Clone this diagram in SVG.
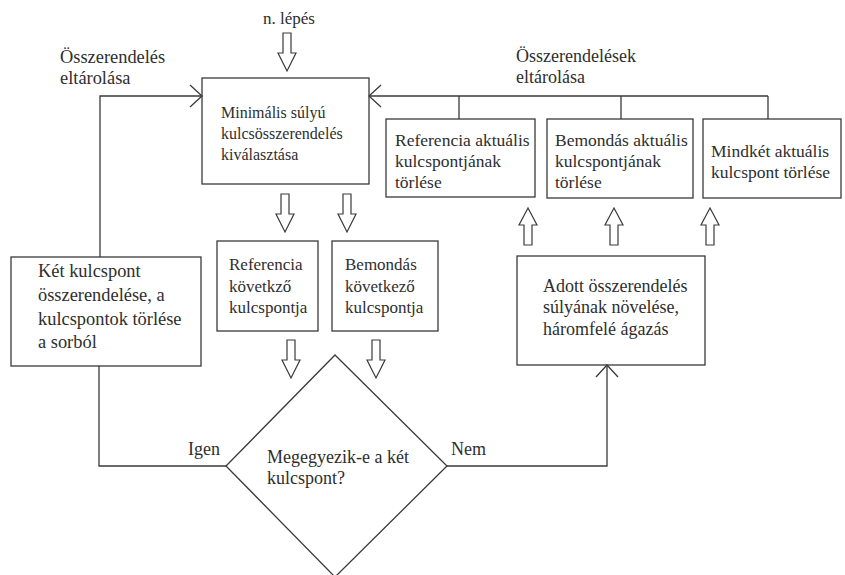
<svg xmlns="http://www.w3.org/2000/svg" width="845" height="575" viewBox="0 0 845 575">
<defs>
<style>
.box{fill:none;stroke:#3a3a3a;stroke-width:1.3}
.ln{fill:none;stroke:#3a3a3a;stroke-width:1.3}
.ha{fill:#fff;stroke:#3a3a3a;stroke-width:1.2;stroke-linejoin:miter}
.t{fill:#2e2e2e}
.f16{font-size:16px}.f17{font-size:17px}.f175{font-size:17.5px}.f18{font-size:18px}.f185{font-size:18.4px}
</style>
<path id="down" d="M-4,0 L4,0 L4,20 L9,20 L0,38 L-9,20 L-4,20 Z"/>
<path id="up" d="M-4,37 L4,37 L4,17 L9,17 L0,0 L-9,17 L-4,17 Z"/>
</defs>
<rect width="845" height="575" fill="#ffffff"/>
<g font-family="Liberation Serif, Times New Roman, serif">
<g id="connectors">
<polyline class="ln" points="100,257 100,96 202,96"/>
<polyline class="ln" points="190,85 202,96 190,107"/>
<line class="ln" x1="369" y1="96" x2="768" y2="96"/>
<polyline class="ln" points="381,85 369,96 381,107"/>
<line class="ln" x1="459" y1="96" x2="459" y2="119"/>
<line class="ln" x1="621" y1="96" x2="621" y2="119"/>
<line class="ln" x1="768" y1="96" x2="768" y2="119"/>
<polyline class="ln" points="226,466 99,466 99,366"/>
<polyline class="ln" points="447,466 607,466 607,365"/>
<polyline class="ln" points="596,377 607,365 618,377"/>
<use href="#down" class="ha" x="287" y="33"/>
<use href="#down" class="ha" x="285" y="194"/>
<use href="#down" class="ha" x="347" y="194"/>
<use href="#down" class="ha" x="291" y="340"/>
<use href="#down" class="ha" x="376" y="340"/>
<use href="#up" class="ha" x="528" y="208"/>
<use href="#up" class="ha" x="614" y="208"/>
<use href="#up" class="ha" x="710" y="208"/>
<text class="t f17" x="263" y="24">n. lépés</text>
<text class="t f185" x="60" y="63">Összerendelés</text>
<text class="t f185" x="60" y="84">eltárolása</text>
<text class="t f18" x="516" y="62">Összerendelések</text>
<text class="t f18" x="516" y="83">eltárolása</text>
<text class="t f18" x="188" y="455">Igen</text>
<text class="t f18" x="451" y="455">Nem</text>
</g>

<g id="n_min">
<rect class="box" x="202" y="78" width="167" height="106"/>
<text class="t f16" x="221" y="118">Minimális súlyú</text>
<text class="t f16" x="221" y="139">kulcsösszerendelés</text>
<text class="t f16" x="221" y="160">kiválasztása</text>
</g>

<g id="n_refdel">
<rect class="box" x="386" y="119" width="149" height="78"/>
<text class="t f175" x="395" y="146">Referencia aktuális</text>
<text class="t f175" x="395" y="167">kulcspontjának</text>
<text class="t f175" x="395" y="188">törlése</text>
</g>

<g id="n_bemdel">
<rect class="box" x="547" y="119" width="146" height="79"/>
<text class="t f175" x="555" y="146">Bemondás aktuális</text>
<text class="t f175" x="555" y="167">kulcspontjának</text>
<text class="t f175" x="555" y="188">törlése</text>
</g>

<g id="n_bothdel">
<rect class="box" x="703" y="119" width="138" height="79"/>
<text class="t f175" x="711" y="157">Mindkét aktuális</text>
<text class="t f175" x="711" y="178">kulcspont törlése</text>
</g>

<g id="n_pair">
<rect class="box" x="11" y="257" width="190" height="109"/>
<text class="t f185" x="38" y="277">Két kulcspont</text>
<text class="t f185" x="38" y="301">összerendelése, a</text>
<text class="t f185" x="38" y="325">kulcspontok törlése</text>
<text class="t f185" x="38" y="348">a sorból</text>
</g>

<g id="n_refnext">
<rect class="box" x="217" y="241" width="101" height="90"/>
<text class="t f17" x="229" y="270">Referencia</text>
<text class="t f17" x="229" y="292">követkző</text>
<text class="t f17" x="229" y="313">kulcspontja</text>
</g>

<g id="n_bemnext">
<rect class="box" x="332" y="241" width="106" height="90"/>
<text class="t f17" x="345" y="270">Bemondás</text>
<text class="t f17" x="345" y="292">következő</text>
<text class="t f17" x="345" y="313">kulcspontja</text>
</g>

<g id="n_inc">
<rect class="box" x="517" y="256" width="188" height="109"/>
<text class="t f18" x="543" y="292">Adott összerendelés</text>
<text class="t f18" x="543" y="313">súlyának növelése,</text>
<text class="t f18" x="543" y="335">háromfelé ágazás</text>
</g>

<g id="n_dec">
<polygon class="box" points="335,355 447,466 335,577 226,466"/>
<text class="t f18" x="267" y="463">Megegyezik-e a két</text>
<text class="t f18" x="267" y="484">kulcspont?</text>
</g>
</g>
</svg>
